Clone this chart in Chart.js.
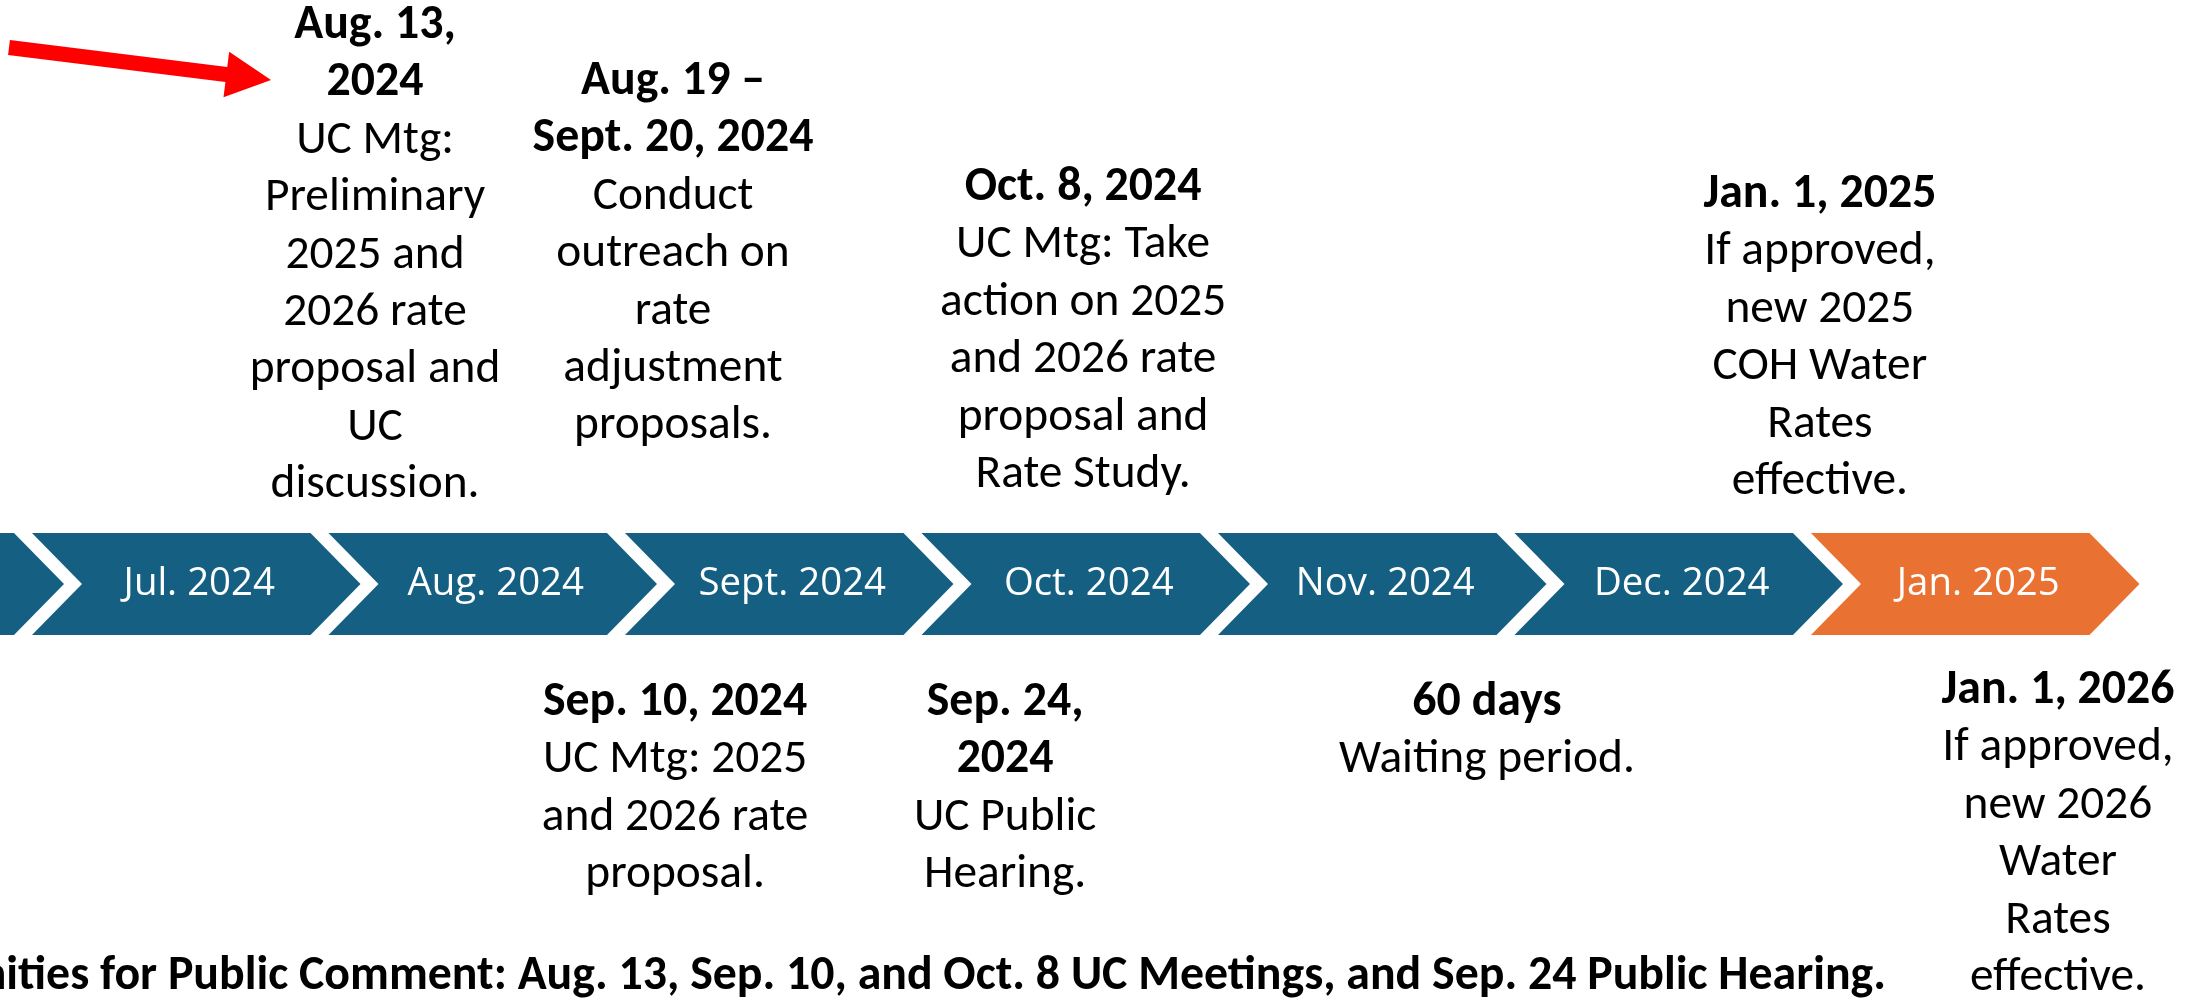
<!DOCTYPE html>
<html>
<head>
<meta charset="utf-8">
<script src="https://cdn.jsdelivr.net/npm/chart.js@4.4.1/dist/chart.umd.min.js"></script>
<style>
  html, body { margin: 0; padding: 0; background: #ffffff; overflow: hidden; }
  #wrap { width: 2197px; height: 1000px; position: relative; }
  canvas { display: block; }
</style>
</head>
<body>
<div id="wrap"><canvas id="c" width="2197" height="1000"></canvas></div>
<script>
// ---------------- DATA ----------------
const months = ['Jun. 2024', 'Jul. 2024', 'Aug. 2024', 'Sept. 2024', 'Oct. 2024', 'Nov. 2024', 'Dec. 2024', 'Jan. 2025'];
const monthIndex = [0, 1, 2, 3, 4, 5, 6, 7];
const highlightMonth = 'Jan. 2025';

const topEventTitles = [
  ['Aug. 13,', '2024'],
  ['Aug. 19 –', 'Sept. 20, 2024'],
  ['Oct. 8, 2024'],
  ['Jan. 1, 2025']
];
const topEventTexts = [
  ['UC Mtg:', 'Preliminary', '2025 and', '2026 rate', 'proposal and', 'UC', 'discussion.'],
  ['Conduct', 'outreach on', 'rate', 'adjustment', 'proposals.'],
  ['UC Mtg: Take', 'action on 2025', 'and 2026 rate', 'proposal and', 'Rate Study.'],
  ['If approved,', 'new 2025', 'COH Water', 'Rates', 'effective.']
];
const bottomEventTitles = [
  ['Sep. 10, 2024'],
  ['Sep. 24,', '2024'],
  ['60 days'],
  ['Jan. 1, 2026']
];
const bottomEventTexts = [
  ['UC Mtg: 2025', 'and 2026 rate', 'proposal.'],
  ['UC Public', 'Hearing.'],
  ['Waiting period.'],
  ['If approved,', 'new 2026', 'Water', 'Rates', 'effective.']
];
const footerNote = 'Opportunities for Public Comment: Aug. 13, Sep. 10, and Oct. 8 UC Meetings, and Sep. 24 Public Hearing.';

// ---------------- LAYOUT / STYLE ----------------
const W = 2197, H = 1000;
const BLUE = '#156082', ORANGE = '#E97132';
const LAYOUT = {
  xMin: 0.3921, xMax: 7.8019,          // visible span of the month axis
  bandTopPx: 533, bandBottomPx: 635,   // where the [0,1] track lands
  chevronGap: 18, chevronDepth: 50,
  lineH: 57.4,
  topAnchors: [1.657, 2.662, 4.045, 6.530],
  topBaselines: [38, 94, 200, 207],
  bottomAnchors: [2.669, 3.782, 5.407, 7.333],
  bottomBaselines: [715, 715, 715, 703],
  footerRight: 1886, footerBaseline: 989,
  arrowTail: [9, 47.5], arrowTip: [271, 80], arrowShaftHalf: 7.5, arrowHeadLen: 45, arrowHeadHalf: 23
};
const unitPx = LAYOUT.bandBottomPx - LAYOUT.bandTopPx;
const yMax = 1 + LAYOUT.bandTopPx / unitPx;
const yMin = yMax - H / unitPx;

// ---------------- FONTS ----------------
const mctx = document.createElement('canvas').getContext('2d');
function fontAvailable(name) {
  const s = 'Preliminary 2024 WMwmil';
  for (const base of ['monospace', 'serif']) {
    mctx.font = '72px ' + base; const a = mctx.measureText(s).width;
    mctx.font = '72px "' + name + '", ' + base; const b = mctx.measureText(s).width;
    if (Math.abs(a - b) > 0.5) return true;
  }
  return false;
}
function pickFamily(list) {
  for (const f of list) if (fontAvailable(f)) return '"' + f + '"';
  return 'sans-serif';
}
function fitSize(family, weight, sample, target, lo, hi) {
  mctx.font = weight + ' 100px ' + family;
  const s = 100 * target / mctx.measureText(sample).width;
  return Math.max(lo, Math.min(hi, s));
}
const ANN_FAMILY = pickFamily(['Carlito', 'Calibri', 'Lato', 'Liberation Sans']);
const LBL_FAMILY = pickFamily(['Aptos', 'Open Sans', 'Noto Sans']);
const ANN_SIZE = fitSize(ANN_FAMILY, 'normal', 'Waiting period.', 296, 38, 52);
const ANN_BOLD = fitSize(ANN_FAMILY, 'bold', 'ities for Public Comment: Aug. 13, Sep. 10, and Oct. 8 UC Meetings, and Sep. 24 Public Hearing.', 1880, 38, 52);
const LBL_SIZE = fitSize(LBL_FAMILY, 'normal', 'Nov. 2024', 179, 32, 46);

// ---------------- PLUGIN ----------------
function drawBlock(ctx, x, baseline, titles, texts) {
  ctx.textAlign = 'center';
  ctx.textBaseline = 'alphabetic';
  ctx.fillStyle = '#000000';
  let y = baseline;
  ctx.font = 'bold ' + ANN_BOLD + 'px ' + ANN_FAMILY;
  titles.forEach(t => { ctx.fillText(t, x, y); y += LAYOUT.lineH; });
  ctx.font = 'normal ' + ANN_SIZE + 'px ' + ANN_FAMILY;
  texts.forEach(t => { ctx.fillText(t, x, y); y += LAYOUT.lineH; });
}

const timelinePlugin = {
  id: 'timeline',
  beforeDraw(chart) {
    const c = chart.ctx;
    c.save(); c.fillStyle = '#ffffff'; c.fillRect(0, 0, chart.width, chart.height); c.restore();
  },
  beforeDatasetDraw(chart, args) {
    const c = chart.ctx, xs = chart.scales.x;
    const g = LAYOUT.chevronGap, d = LAYOUT.chevronDepth;
    c.save();
    args.meta.data.forEach((bar, i) => {
      const p = bar.getProps(['x', 'y', 'base'], true);
      const v = monthIndex[i];
      const left = xs.getPixelForValue(v - 0.5), right = xs.getPixelForValue(v + 0.5);
      const top = Math.min(p.y, p.base), bottom = Math.max(p.y, p.base), mid = (top + bottom) / 2;
      c.beginPath();
      c.moveTo(left, top);
      c.lineTo(right - g, top);
      c.lineTo(right - g + d, mid);
      c.lineTo(right - g, bottom);
      c.lineTo(left, bottom);
      c.lineTo(left + d, mid);
      c.closePath();
      c.fillStyle = bar.options.backgroundColor;
      c.fill();
      c.fillStyle = '#ffffff';
      c.font = 'normal ' + LBL_SIZE + 'px ' + LBL_FAMILY;
      c.textAlign = 'center';
      c.textBaseline = 'middle';
      c.fillText(months[i], (left + d + right - g) / 2 + 3, mid);
    });
    c.restore();
    return false;
  },
  afterDraw(chart) {
    const c = chart.ctx, xs = chart.scales.x;
    c.save();
    topEventTitles.forEach((t, i) => drawBlock(c, xs.getPixelForValue(LAYOUT.topAnchors[i]), LAYOUT.topBaselines[i], t, topEventTexts[i]));
    bottomEventTitles.forEach((t, i) => drawBlock(c, xs.getPixelForValue(LAYOUT.bottomAnchors[i]), LAYOUT.bottomBaselines[i], t, bottomEventTexts[i]));
    // footer note
    c.font = 'bold ' + ANN_BOLD + 'px ' + ANN_FAMILY;
    c.textAlign = 'right'; c.textBaseline = 'alphabetic'; c.fillStyle = '#000000';
    c.fillText(footerNote, LAYOUT.footerRight, LAYOUT.footerBaseline);
    // red pointer arrow
    const [sx, sy] = LAYOUT.arrowTail, [tx, ty] = LAYOUT.arrowTip;
    const len = Math.hypot(tx - sx, ty - sy), ux = (tx - sx) / len, uy = (ty - sy) / len, nx = -uy, ny = ux;
    const bx = tx - ux * LAYOUT.arrowHeadLen, by = ty - uy * LAYOUT.arrowHeadLen;
    const s = LAYOUT.arrowShaftHalf, h = LAYOUT.arrowHeadHalf;
    c.beginPath();
    c.moveTo(sx + nx * s, sy + ny * s);
    c.lineTo(bx + nx * s, by + ny * s);
    c.lineTo(bx + nx * h, by + ny * h);
    c.lineTo(tx, ty);
    c.lineTo(bx - nx * h, by - ny * h);
    c.lineTo(bx - nx * s, by - ny * s);
    c.lineTo(sx - nx * s, sy - ny * s);
    c.closePath();
    c.fillStyle = '#FF0000';
    c.fill();
    c.restore();
  }
};

// ---------------- CHART ----------------
new Chart(document.getElementById('c'), {
  type: 'bar',
  data: {
    datasets: [{
      label: 'Timeline',
      data: monthIndex.map(m => ({ x: m, y: [0, 1] })),
      backgroundColor: ctx => months[ctx.dataIndex] === highlightMonth ? ORANGE : BLUE,
      barPercentage: 1,
      categoryPercentage: 1
    }]
  },
  options: {
    responsive: false,
    devicePixelRatio: 1,
    animation: false,
    layout: { padding: 0 },
    plugins: { legend: { display: false }, tooltip: { enabled: false }, title: { display: false } },
    scales: {
      x: { type: 'linear', min: LAYOUT.xMin, max: LAYOUT.xMax, offset: false, display: false,
           ticks: { stepSize: 1, includeBounds: false }, grid: { display: false } },
      y: { type: 'linear', min: yMin, max: yMax, display: false, grid: { display: false } }
    }
  },
  plugins: [timelinePlugin]
});
</script>
</body>
</html>
